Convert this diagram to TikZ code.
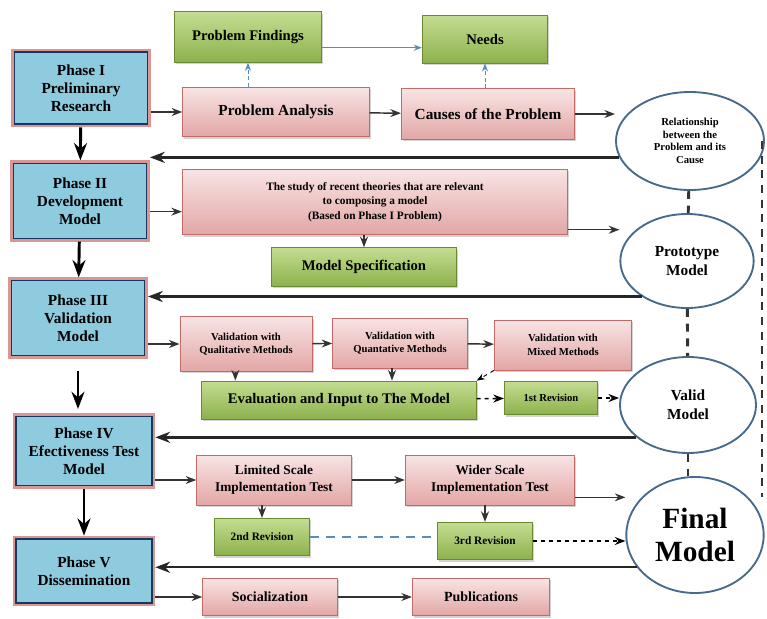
\documentclass[tikz,border=0pt]{standalone}
\usepackage{fontspec}
\setmainfont{Liberation Serif}
\usetikzlibrary{arrows.meta,shapes.geometric,shadows}
\definecolor{phaseblue}{HTML}{8FCBDE}
\definecolor{phaseedge}{HTML}{17375E}
\definecolor{phaserim}{HTML}{D99694}
\definecolor{pinktop}{HTML}{F8E4E4}
\definecolor{pinkbot}{HTML}{E2A6A5}
\definecolor{pinkedge}{HTML}{C46A68}
\definecolor{greentop}{HTML}{C4DD92}
\definecolor{greenbot}{HTML}{8DB14C}
\definecolor{greenedge}{HTML}{6A8A32}
\definecolor{ovaledge}{HTML}{46698C}
\definecolor{linkblue}{HTML}{5B8DB8}
\tikzset{
  phase/.style={draw=phaseedge, line width=0.9pt, fill=phaseblue,
    preaction={draw=phaserim, line width=5pt}, minimum width=100pt,
    align=center, outer sep=2.5pt, font=\fontsize{11.5}{13.5}\selectfont\bfseries},
  pinkbox/.style={draw=pinkedge, line width=0.6pt, top color=pinktop, bottom color=pinkbot,
    drop shadow={opacity=0.35, shadow xshift=1.2pt, shadow yshift=-1.5pt},
    align=center, inner sep=2pt, font=\fontsize{10.5}{13}\selectfont\bfseries},
  greenbox/.style={draw=greenedge, line width=0.6pt, top color=greentop, bottom color=greenbot,
    drop shadow={opacity=0.35, shadow xshift=1.2pt, shadow yshift=-1.5pt},
    align=center, inner sep=2pt, font=\fontsize{11}{13}\selectfont\bfseries},
  oval/.style={ellipse, draw=ovaledge, line width=1.4pt, fill=white, align=center, inner sep=0pt},
  big/.style={font=\fontsize{11.5}{14}\selectfont\bfseries},
  mid/.style={font=\fontsize{10}{13}\selectfont\bfseries},
  small/.style={font=\fontsize{8.5}{11}\selectfont\bfseries},
  tiny/.style={font=\fontsize{8}{10}\selectfont\bfseries},
  flow/.style={->, line width=1.1pt, black!80},
  back/.style={->, line width=1.8pt, black!85},
  down/.style={->, line width=2.2pt},
  hint/.style={->, densely dashed, linkblue, line width=0.7pt},
  revise/.style={->, dashed, line width=1.1pt},
  chain/.style={line width=2.2pt, dash pattern=on 6pt off 5pt, black!80},
  >=Stealth
}
\begin{document}
\begin{tikzpicture}[x=0.75pt,y=-0.75pt]
  \useasboundingbox (0,0) rectangle (767,618);
  \node[phase, minimum height=54pt] (P1) at (81,88) {Phase I\\Preliminary\\Research};
  \node[phase, minimum height=56pt] (P2) at (80,201) {Phase II\\Development\\Model};
  \node[phase, minimum height=56pt] (P3) at (78,318) {Phase III\\Validation\\Model};
  \node[phase, minimum height=52pt, minimum width=102pt] (P4) at (84,451) {Phase IV\\Efectiveness Test\\Model};
  \node[phase, minimum height=48pt, minimum width=102pt] (P5) at (84,571) {Phase V\\Dissemination};

  \node[greenbox, minimum width=110pt, minimum height=38pt] (PF) at (248,37) {Problem Findings};
  \node[greenbox, minimum width=94pt, minimum height=36pt] (ND) at (485,39) {Needs};
  \node[pinkbox, big, minimum width=140pt, minimum height=37pt] (PA) at (276,112) {Problem Analysis};
  \node[pinkbox, big, minimum width=130pt, minimum height=38pt] (CP) at (488,114) {Causes of the Problem};
  \node[pinkbox, small, minimum width=289pt, minimum height=49pt] (ST) at (375,202)
    {The study of recent theories that are relevant\\to composing a model\\(Based on Phase I Problem)};
  \node[greenbox, minimum width=139pt, minimum height=29pt] (MS) at (364,267) {Model Specification};
  \node[pinkbox, tiny, minimum width=99pt, minimum height=41pt] (QL) at (246,344) {Validation with\\Qualitative Methods};
  \node[pinkbox, tiny, minimum width=101pt, minimum height=37.5pt] (QT) at (400,343) {Validation with\\Quantative Methods};
  \node[pinkbox, tiny, minimum width=103pt, minimum height=37.5pt] (MX) at (563,345) {Validation with\\Mixed Methods};
  \node[greenbox, minimum width=206pt, minimum height=28.5pt] (EV) at (339,400) {Evaluation and Input to The Model};
  \node[greenbox, tiny, minimum width=70pt, minimum height=25pt] (R1) at (551,398) {1st Revision};
  \node[pinkbox, mid, minimum width=116pt, minimum height=37.5pt] (LT) at (274,480) {Limited Scale\\Implementation Test};
  \node[pinkbox, mid, minimum width=127pt, minimum height=37.5pt] (WT) at (490,480) {Wider Scale\\Implementation Test};
  \node[greenbox, small, minimum width=71pt, minimum height=28pt] (R2) at (262,537) {2nd Revision};
  \node[greenbox, small, minimum width=71pt, minimum height=28pt] (R3) at (485,541) {3rd Revision};
  \node[pinkbox, minimum width=101pt, minimum height=28pt] (SO) at (270,597) {Socialization};
  \node[pinkbox, minimum width=103pt, minimum height=28pt] (PU) at (481,597) {Publications};

  \node[oval, minimum width=111pt, minimum height=73.5pt, font=\fontsize{8}{9.5}\selectfont\bfseries] (RE) at (690,141)
    {Relationship\\between the\\Problem and its\\Cause};
  \node[oval, big, minimum width=100pt, minimum height=70.5pt] (PM) at (687,261) {Prototype\\Model};
  \node[oval, big, minimum width=102pt, minimum height=72pt] (VM) at (688,405) {Valid\\Model};
  \node[oval, minimum width=103pt, minimum height=87pt, font=\fontsize{22}{25}\selectfont\bfseries] (FM) at (695,535) {Final\\Model};
  \coordinate (rb) at (762,497);

  \draw[down] (P1) -- (P2);
  \draw[down] (P2) -- (P3);
  \draw[down, shorten <=9pt, shorten >=3pt] (P3) -- (P3 |- P4.north);
  \draw[down] (P4) -- (P4 |- P5.north);

  \draw[flow] (P1.east |- PA.west) -- (PA.west);
  \draw[flow] (PA) -- (CP);
  \draw[flow] (CP.east) -- (CP.east -| RE.west);
  \draw[hint] (PF.south |- PA.north) -- (PF.south);
  \draw[hint] (ND.south |- CP.north) -- (ND.south);
  \draw[->, linkblue, line width=0.7pt] ([yshift=-8pt]PF.east) -- ([yshift=-8pt]PF.east -| ND.west);
  \draw[back] (RE.193) -- (RE.193 -| P2.east);

  \draw[flow] ([yshift=-8pt]P2.east) -- ([yshift=-8pt]P2.east -| ST.west);
  \draw[flow] ([yshift=4pt]ST.south east) -- ([yshift=4pt]ST.south east -| PM.west);
  \draw[flow] (MS.north |- ST.south) -- (MS.north);
  \draw[back] (PM.218) -- (PM.218 -| P3.east);

  \draw[flow] (P3.east |- QL.west) -- (QL.west);
  \draw[flow] (QL) -- (QT);
  \draw[flow] (QT) -- (MX);
  \draw[flow] ([xshift=-8pt]QL.south) -- ([xshift=-8pt]QL.south |- EV.north);
  \draw[flow] ([xshift=-6pt]QT.south) -- ([xshift=-6pt]QT.south |- EV.north);
  \draw[revise, line width=0.7pt] (MX.south west) -- (EV.north east);
  \draw[revise] (EV) -- (R1);
  \draw[revise] (R1.east) -- (R1.east -| VM.west);
  \draw[back] (VM.212) -- (VM.212 -| P4.east);

  \draw[flow] (P4.east |- LT.west) -- (LT.west);
  \draw[flow] (LT) -- (WT);
  \draw[flow] ([yshift=-13pt]WT.east) -- ([yshift=-13pt]WT.east -| FM.west);
  \draw[flow] (R2.north |- LT.south) -- (R2.north);
  \draw[flow] (R3.north |- WT.south) -- (R3.north);
  \draw[dashed, linkblue, line width=1pt, dash pattern=on 7pt off 5pt] (R2.east) -- (R2.east -| R3.west);
  \draw[revise] (R3.east) -- (R3.east -| FM.west);
  \draw[back] (FM.209) -- (FM.209 -| P5.east);

  \draw[flow] (P5.east |- SO.west) -- (SO.west);
  \draw[flow] (SO) -- (PU);

  \draw[chain] (RE) -- (PM);
  \draw[chain] (PM) -- (VM);
  \draw[chain] (VM) -- (FM.north -| VM);
  \draw[chain] (RE.east -| rb) -- (rb);
\end{tikzpicture}
\end{document}
